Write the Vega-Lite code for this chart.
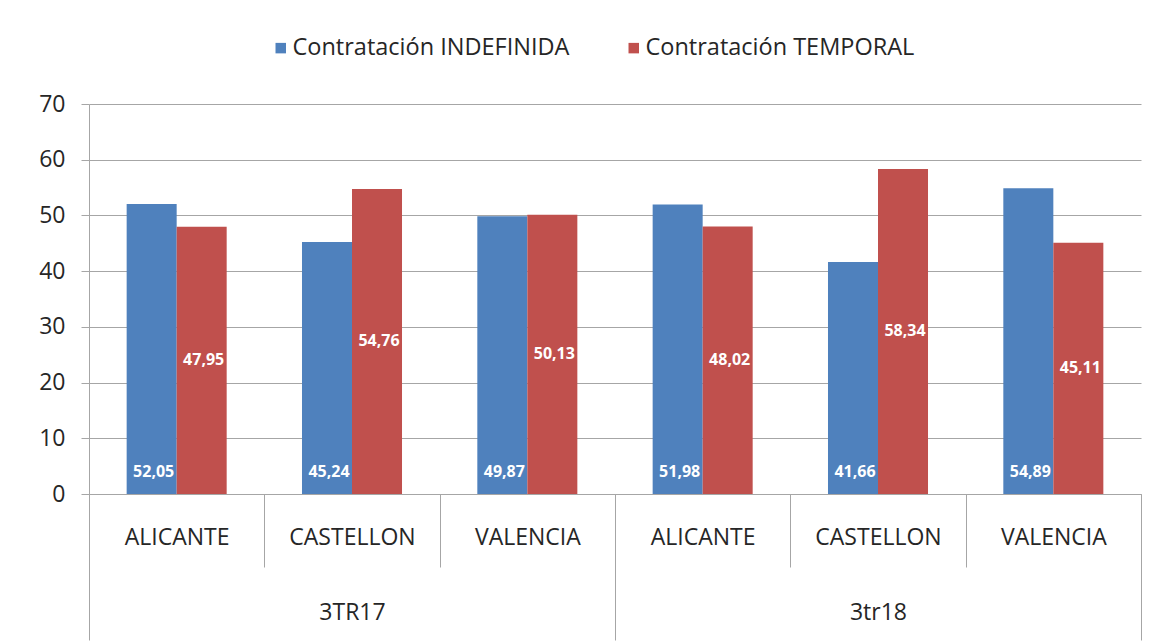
{
  "$schema": "https://vega.github.io/schema/vega-lite/v6.json",
  "width": 1052,
  "height": 390,
  "autosize": {"type": "none"},
  "padding": {"left": 89, "top": 104, "right": 18, "bottom": 149},
  "config": {
    "locale": {"number": {"decimal": ",", "thousands": ".", "grouping": [3], "currency": ["", " €"]}},
    "view": {"stroke": null},
    "font": "Open Sans",
    "axis": {
      "labelFont": "Open Sans",
      "labelFontSize": 23,
      "labelColor": "#262626",
      "domainColor": "#A6A6A6",
      "tickColor": "#A6A6A6",
      "gridColor": "#A6A6A6",
      "title": null
    },
    "legend": {"labelFont": "Open Sans", "labelFontSize": 23.5, "labelColor": "#262626", "labelLimit": 400}
  },
  "data": {
    "values": [
      {"grupo": "3TR17", "provincia": "ALICANTE", "key": "3TR17|ALICANTE", "serie": "Contratación INDEFINIDA", "valor": 52.05},
      {"grupo": "3TR17", "provincia": "ALICANTE", "key": "3TR17|ALICANTE", "serie": "Contratación TEMPORAL", "valor": 47.95},
      {"grupo": "3TR17", "provincia": "CASTELLON", "key": "3TR17|CASTELLON", "serie": "Contratación INDEFINIDA", "valor": 45.24},
      {"grupo": "3TR17", "provincia": "CASTELLON", "key": "3TR17|CASTELLON", "serie": "Contratación TEMPORAL", "valor": 54.76},
      {"grupo": "3TR17", "provincia": "VALENCIA", "key": "3TR17|VALENCIA", "serie": "Contratación INDEFINIDA", "valor": 49.87},
      {"grupo": "3TR17", "provincia": "VALENCIA", "key": "3TR17|VALENCIA", "serie": "Contratación TEMPORAL", "valor": 50.13},
      {"grupo": "3tr18", "provincia": "ALICANTE", "key": "3tr18|ALICANTE", "serie": "Contratación INDEFINIDA", "valor": 51.98},
      {"grupo": "3tr18", "provincia": "ALICANTE", "key": "3tr18|ALICANTE", "serie": "Contratación TEMPORAL", "valor": 48.02},
      {"grupo": "3tr18", "provincia": "CASTELLON", "key": "3tr18|CASTELLON", "serie": "Contratación INDEFINIDA", "valor": 41.66},
      {"grupo": "3tr18", "provincia": "CASTELLON", "key": "3tr18|CASTELLON", "serie": "Contratación TEMPORAL", "valor": 58.34},
      {"grupo": "3tr18", "provincia": "VALENCIA", "key": "3tr18|VALENCIA", "serie": "Contratación INDEFINIDA", "valor": 54.89},
      {"grupo": "3tr18", "provincia": "VALENCIA", "key": "3tr18|VALENCIA", "serie": "Contratación TEMPORAL", "valor": 45.11}
    ]
  },
  "layer": [
    {
      "layer": [
        {
          "mark": {"type": "bar"},
          "encoding": {
            "x": {
              "field": "key",
              "type": "nominal",
              "sort": ["3TR17|ALICANTE", "3TR17|CASTELLON", "3TR17|VALENCIA", "3tr18|ALICANTE", "3tr18|CASTELLON", "3tr18|VALENCIA"],
              "scale": {"paddingInner": 0, "paddingOuter": 0},
              "axis": {
                "orient": "bottom",
                "labelExpr": "split(datum.label, '|')[1]",
                "labelAngle": 0,
                "tickBand": "extent",
                "tickSize": 73,
                "labelPadding": -41,
                "domain": true,
                "grid": false
              }
            },
            "xOffset": {"field": "serie", "type": "nominal", "sort": ["Contratación INDEFINIDA", "Contratación TEMPORAL"], "scale": {"paddingInner": 0, "paddingOuter": 0.753}},
            "y": {
              "field": "valor",
              "type": "quantitative",
              "scale": {"domain": [0, 70], "nice": false},
              "axis": {"values": [0, 10, 20, 30, 40, 50, 60, 70], "grid": true, "tickSize": 8, "labelPadding": 16, "domain": true}
            },
            "color": {
              "field": "serie",
              "type": "nominal",
              "scale": {"domain": ["Contratación INDEFINIDA", "Contratación TEMPORAL"], "range": ["#4F81BD", "#C0504D"]},
              "legend": {
                "title": null,
                "orient": "none",
                "direction": "horizontal",
                "legendX": 180,
                "legendY": -68,
                "symbolType": "square",
                "symbolSize": 110,
                "symbolStrokeWidth": 0,
                "labelOffset": 0,
                "columnPadding": 52
              }
            }
          }
        },
        {
          "transform": [{"filter": "datum.serie == 'Contratación INDEFINIDA'"}],
          "mark": {"type": "text", "color": "white", "fontWeight": "bold", "fontSize": 16, "font": "Open Sans", "baseline": "middle", "dy": -22, "dx": 2},
          "encoding": {
            "x": {"field": "key", "type": "nominal", "sort": ["3TR17|ALICANTE", "3TR17|CASTELLON", "3TR17|VALENCIA", "3tr18|ALICANTE", "3tr18|CASTELLON", "3tr18|VALENCIA"]},
            "xOffset": {"field": "serie", "type": "nominal", "sort": ["Contratación INDEFINIDA", "Contratación TEMPORAL"]},
            "y": {"datum": 0, "type": "quantitative", "scale": {"domain": [0, 70], "nice": false}, "axis": null},
            "text": {"field": "valor", "type": "quantitative", "format": ".2f"}
          }
        },
        {
          "transform": [{"filter": "datum.serie == 'Contratación TEMPORAL'"}],
          "mark": {"type": "text", "color": "white", "fontWeight": "bold", "fontSize": 16, "font": "Open Sans", "baseline": "middle", "dx": 2},
          "encoding": {
            "x": {"field": "key", "type": "nominal", "sort": ["3TR17|ALICANTE", "3TR17|CASTELLON", "3TR17|VALENCIA", "3tr18|ALICANTE", "3tr18|CASTELLON", "3tr18|VALENCIA"]},
            "xOffset": {"field": "serie", "type": "nominal", "sort": ["Contratación INDEFINIDA", "Contratación TEMPORAL"]},
            "y": {"field": "valor", "type": "quantitative", "scale": {"domain": [0, 140], "nice": false}, "axis": null},
            "text": {"field": "valor", "type": "quantitative", "format": ".2f"}
          }
        }
      ],
      "resolve": {"scale": {"y": "independent"}}
    },
    {
      "mark": {"type": "rect", "opacity": 0},
      "encoding": {
        "x": {
          "field": "grupo",
          "type": "nominal",
          "sort": ["3TR17", "3tr18"],
          "scale": {"paddingInner": 0, "paddingOuter": 0},
          "axis": {
            "orient": "bottom",
            "labelAngle": 0,
            "tickBand": "extent",
            "tickSize": 146,
            "labelPadding": -39,
            "domain": false,
            "grid": false
          }
        }
      }
    }
  ],
  "resolve": {"scale": {"x": "independent", "y": "independent"}}
}
